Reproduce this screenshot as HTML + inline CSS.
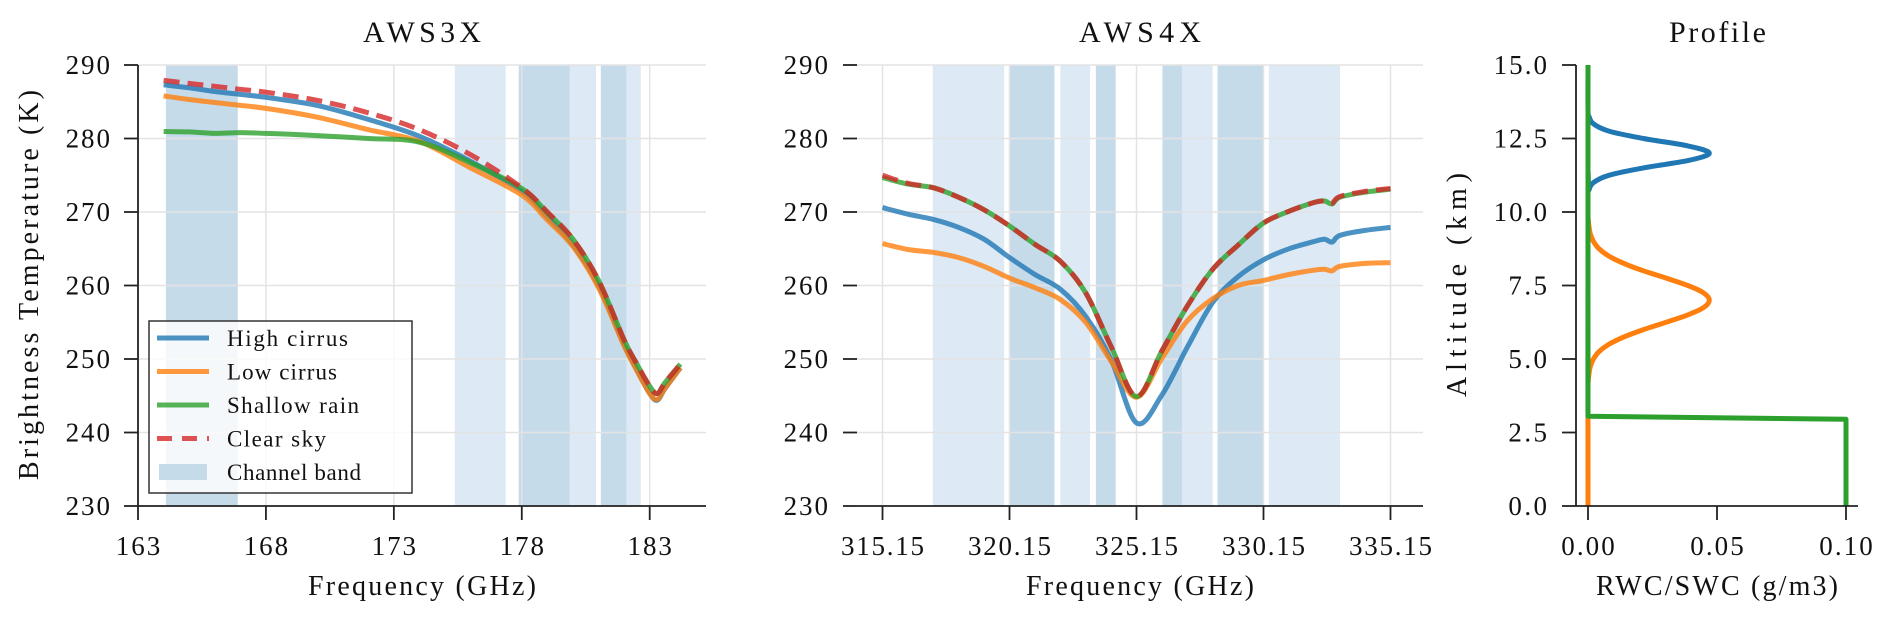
<!DOCTYPE html>
<html><head><meta charset="utf-8"><style>
body{margin:0;background:#fff}
svg{display:block;font-family:"Liberation Serif",serif}
</style></head><body>
<svg id="chart" width="1892" height="621" viewBox="0 0 1892 621" xmlns="http://www.w3.org/2000/svg">
<g id="p1"></g>
<g id="p2"></g>
<g id="p3"></g>
</svg>
<script>
// ---- AWS3X data ----
const f3 = [164,165,166,167,168,170,172,174,176,178,179,180,181,182,182.5,183,183.3,183.6,184.2];
const clear3 = [287.9,287.5,287.1,286.7,286.3,285.2,283.5,281.2,277.8,273.3,270.0,266.3,260.7,252.6,249.3,246.3,245.3,246.8,249.3];
const blue3 = [287.3,286.9,286.4,286.0,285.6,284.5,282.6,280.3,276.9,272.8,269.3,265.5,260.0,251.9,248.5,245.3,244.4,246.0,248.8];
const orange3 = [285.8,285.3,284.9,284.5,284.1,282.9,281.2,279.6,276.0,272.3,268.9,265.3,259.7,251.8,248.4,245.3,244.5,246.0,248.8];
const green3 = [280.95,280.9,280.7,280.8,280.7,280.4,280.0,279.5,276.7,273.2,269.9,266.3,260.7,252.6,249.3,246.3,245.3,246.8,249.3];
const bands3 = [[164.09,166.9,1],[175.38,177.37,0],[177.88,179.88,1],[179.88,180.9,0],[181.09,182.1,1],[182.1,182.65,0]];
const xticks3 = [163,168,173,178,183];
const yticksT = [230,240,250,260,270,280,290];
// ---- AWS4X data ----
const f4 = [315.15,316.15,317.15,318.15,319.15,320.15,321.15,322.15,323.15,324.15,325.15,326.15,327.15,328.15,329.15,330.15,331.15,332.15,332.55,332.85,333.15,334.15,335.15];
const clear4 = [275.0,273.9,273.3,272.0,270.3,268.1,265.6,263.3,259.0,251.7,244.9,251.1,257.2,262.2,265.5,268.5,270.1,271.3,271.5,271.2,272.1,272.8,273.2];
const green4 = [274.7,273.8,273.3,272.0,270.3,268.1,265.6,263.3,259.0,251.7,244.9,251.1,257.2,262.2,265.5,268.5,270.1,271.3,271.5,271.1,272.0,272.7,273.1];
const blue4 = [270.6,269.7,269.0,267.9,266.3,263.8,261.5,259.5,255.8,249.9,241.3,245.1,251.6,257.7,261.2,263.5,265.0,266.0,266.3,265.9,266.8,267.5,267.9];
const orange4 = [265.7,264.9,264.5,263.8,262.6,261.0,259.7,258.1,255.0,249.7,244.8,250.1,255.2,258.2,260.0,260.7,261.5,262.1,262.2,262.0,262.6,263.0,263.1];
const bands4 = [[317.13,319.94,0],[320.13,321.92,1],[322.15,323.32,0],[323.55,324.33,1],[326.17,326.95,1],[326.94,328.15,0],[328.34,330.17,1],[330.36,333.16,0]];
const xticks4 = [315.15,320.15,325.15,330.15,335.15];
// ---- Profile data ----
const altHigh = [0,10.5,10.75,11,11.25,11.5,11.75,12,12.25,12.5,12.75,13,13.25,13.5,15];
const wcHigh = [0,0,0.0004,0.0021,0.0081,0.0215,0.0387,0.047,0.0387,0.0215,0.0081,0.0021,0.0004,0,0];
const altLow = [0,4,4.25,4.5,4.75,5,5.25,5.5,5.75,6,6.25,6.5,6.75,7,7.25,7.5,7.75,8,8.25,8.5,8.75,9,9.25,9.5,9.75,10,15];
const wcLow = [0,0,0.0001,0.0004,0.0009,0.0021,0.0043,0.0081,0.0139,0.0215,0.0303,0.0387,0.0448,0.047,0.0448,0.0387,0.0303,0.0215,0.0139,0.0081,0.0043,0.0021,0.0009,0.0004,0.0001,0,0];
const altRain = [0,2.95,3.05,15];
const wcRain = [0.1,0.1,0,0];
const yticksA = [0,2.5,5,7.5,10,12.5,15];
const xticksA = [0,0.05,0.10];

const NS="http://www.w3.org/2000/svg";
function mk(parent,tag,attrs,text){const e=document.createElementNS(NS,tag);for(const k in attrs)e.setAttribute(k,attrs[k]);if(text!==undefined)e.textContent=text;parent.appendChild(e);return e;}
function numLen(s){let n=0;for(const c of s){n+=(c==='.')?9:14.8;}return n;}
function txt(parent,attrs,s,len){const a=Object.assign({fill:"#111"},attrs);if(len){a.textLength=len;a.lengthAdjust="spacing";}return mk(parent,"text",a,s);}
function lin(d0,d1,r0,r1){return v=>r0+(v-d0)*(r1-r0)/(d1-d0);}
const COL={blue:"#1f77b4",orange:"#ff7f0e",green:"#2ca02c",red:"#d62728"};
const yT = lin(230,290,506,65);

function pathD(xs,ys,sx,sy){return xs.map((x,i)=>(i?"L":"M")+sx(x).toFixed(1)+","+sy(ys[i]).toFixed(1)).join(" ");}
function smoothD(xs,ys,sx,sy){
  const P=xs.map((x,i)=>[sx(x),sy(ys[i])]);
  let d="M"+P[0][0].toFixed(1)+","+P[0][1].toFixed(1);
  for(let i=0;i<P.length-1;i++){
    const p0=P[i-1]||P[i],p1=P[i],p2=P[i+1],p3=P[i+2]||P[i+1];
    const c1=[p1[0]+(p2[0]-p0[0])/6,p1[1]+(p2[1]-p0[1])/6];
    const c2=[p2[0]-(p3[0]-p1[0])/6,p2[1]-(p3[1]-p1[1])/6];
    d+=" C"+c1.map(v=>v.toFixed(1)).join(",")+" "+c2.map(v=>v.toFixed(1)).join(",")+" "+p2[0].toFixed(1)+","+p2[1].toFixed(1);
  }
  return d;
}

function tempPanel(g,xs,bands,xticks,x0,x1,px0,px1,title,titleLen,tickFmt,showSpine,tickX,ytickLabelX,series){
  const sx=lin(x0,x1,px0,px1);
  bands.forEach(b=>{
    const r=mk(g,"rect",{x:sx(b[0]),y:65,width:sx(b[1])-sx(b[0]),height:441,fill:b[2]?"#c6dbea":"#dde9f4"});
    
    
  });
  yticksT.forEach(t=>{
    const l=mk(g,"line",{x1:px0,x2:px1,y1:yT(t),y2:yT(t),stroke:"#e3e3e3","stroke-width":1.5});
    
    
  });
  xticks.forEach(t=>{
    const l=mk(g,"line",{x1:sx(t),x2:sx(t),y1:65,y2:506,stroke:"#e3e3e3","stroke-width":1.5});
    
    
  });
  series.forEach(s=>{
    const p=mk(g,"path",{d:smoothD(xs,s.v,sx,yT),fill:"none",stroke:s.c,"stroke-width":5,"stroke-opacity":0.8,"stroke-linejoin":"round","stroke-dasharray":s.dash||"none"});
    
    
  });
  mk(g,"line",{x1:tickX,x2:px1,y1:506,y2:506,stroke:"#222","stroke-width":1.8});
  if(showSpine) mk(g,"line",{x1:tickX,x2:tickX,y1:65,y2:506,stroke:"#222","stroke-width":1.8});
  yticksT.forEach(t=>{
    mk(g,"line",{x1:tickX-14,x2:tickX,y1:yT(t),y2:yT(t),stroke:"#222","stroke-width":1.8});
    const s=String(t);
    const tx=txt(g,{x:ytickLabelX-numLen(s),y:yT(t)+9,"font-size":27},s,numLen(s));
    
    
  });
  xticks.forEach(t=>{
    mk(g,"line",{x1:sx(t),x2:sx(t),y1:506,y2:520,stroke:"#222","stroke-width":1.8});
    const s=tickFmt(t);
    const tx=txt(g,{x:sx(t)-numLen(s)/2,y:555,"font-size":27},s,numLen(s));
    
    
  });
  const cx=(tickX+px1)/2;
  const ti=txt(g,{x:cx-titleLen/2,y:42,"font-size":30},title,titleLen);
  
  
  const xl=txt(g,{x:cx-114,y:595,"font-size":28},"Frequency (GHz)",228);
  
  
}

const p1=document.getElementById("p1");
tempPanel(p1,f3,bands3,xticks3,163,185.2,138,706,"AWS3X",118,t=>String(t),true,138,110,[
  {v:blue3,c:COL.blue,n:"line-high-cirrus"},
  {v:orange3,c:COL.orange,n:"line-low-cirrus"},
  {v:green3,c:COL.green,n:"line-shallow-rain"},
  {v:clear3,c:COL.red,n:"line-clear-sky",dash:"16 8"}]);
const p2=document.getElementById("p2");
tempPanel(p2,f4,bands4,xticks4,313.87,336.43,850,1423,"AWS4X",122,t=>t.toFixed(2),false,857,828,[
  {v:blue4,c:COL.blue,n:"line-high-cirrus"},
  {v:orange4,c:COL.orange,n:"line-low-cirrus"},
  {v:green4,c:COL.green,n:"line-shallow-rain"},
  {v:clear4,c:COL.red,n:"line-clear-sky",dash:"16 8"}]);

const yl=txt(p1,{x:-195,y:0,transform:"translate(38,285) rotate(-90)","font-size":28},"Brightness Temperature (K)",390);



const lg=mk(p1,"g",{});


mk(lg,"rect",{x:149,y:321,width:263,height:172,fill:"#fff","fill-opacity":0.8,stroke:"#333","stroke-width":1.5});
const leg=[["High cirrus",COL.blue,null,121],["Low cirrus",COL.orange,null,110],["Shallow rain",COL.green,null,132],["Clear sky",COL.red,"15 10",99],["Channel band",null,null,134]];
leg.forEach((e,i)=>{
  const y=338+i*33.5;
  const eg=mk(lg,"g",{});
  
  
  if(e[1]) mk(eg,"line",{x1:157,x2:209,y1:y,y2:y,stroke:e[1],"stroke-width":5,"stroke-opacity":0.8,"stroke-dasharray":e[2]||"none"});
  else mk(eg,"rect",{x:159,y:y-8,width:48,height:16,fill:"#c6dbea"});
  txt(eg,{x:227,y:y+8,"font-size":23},e[0],e[3]);
});

const p3=document.getElementById("p3");
const sxA=lin(0,0.1,1588,1846), syA=lin(0,15,506,65);
[[wcHigh,altHigh,COL.blue,"line-high-cirrus-profile",true],[wcLow,altLow,COL.orange,"line-low-cirrus-profile",true],[wcRain,altRain,COL.green,"line-shallow-rain-profile",false]].forEach(s=>{
  const p=mk(p3,"path",{d:(s[4]?smoothD:pathD)(s[0],s[1],sxA,syA),fill:"none",stroke:s[2],"stroke-width":5,"stroke-linejoin":"round"});
  
  
});
mk(p3,"line",{x1:1576,x2:1576,y1:65,y2:506,stroke:"#222","stroke-width":1.8});
mk(p3,"line",{x1:1576,x2:1858,y1:506,y2:506,stroke:"#222","stroke-width":1.8});
yticksA.forEach(t=>{
  mk(p3,"line",{x1:1562,x2:1576,y1:syA(t),y2:syA(t),stroke:"#222","stroke-width":1.8});
  const s=t.toFixed(1);
  const tx=txt(p3,{x:1547-numLen(s),y:syA(t)+9,"font-size":27},s,numLen(s));
  
  
});
xticksA.forEach(t=>{
  mk(p3,"line",{x1:sxA(t),x2:sxA(t),y1:506,y2:520,stroke:"#222","stroke-width":1.8});
  const s=t.toFixed(2);
  const tx=txt(p3,{x:sxA(t)-numLen(s)/2,y:555,"font-size":27},s,numLen(s));
  
  
});
const t3=txt(p3,{x:1717-48,y:42,"font-size":30},"Profile",97);


const x3=txt(p3,{x:1717-121,y:595,"font-size":28},"RWC/SWC (g/m3)",242);


const y3=txt(p3,{x:-112,y:0,transform:"translate(1466,285) rotate(-90)","font-size":28},"Altitude (km)",224);


</script>
</body></html>
